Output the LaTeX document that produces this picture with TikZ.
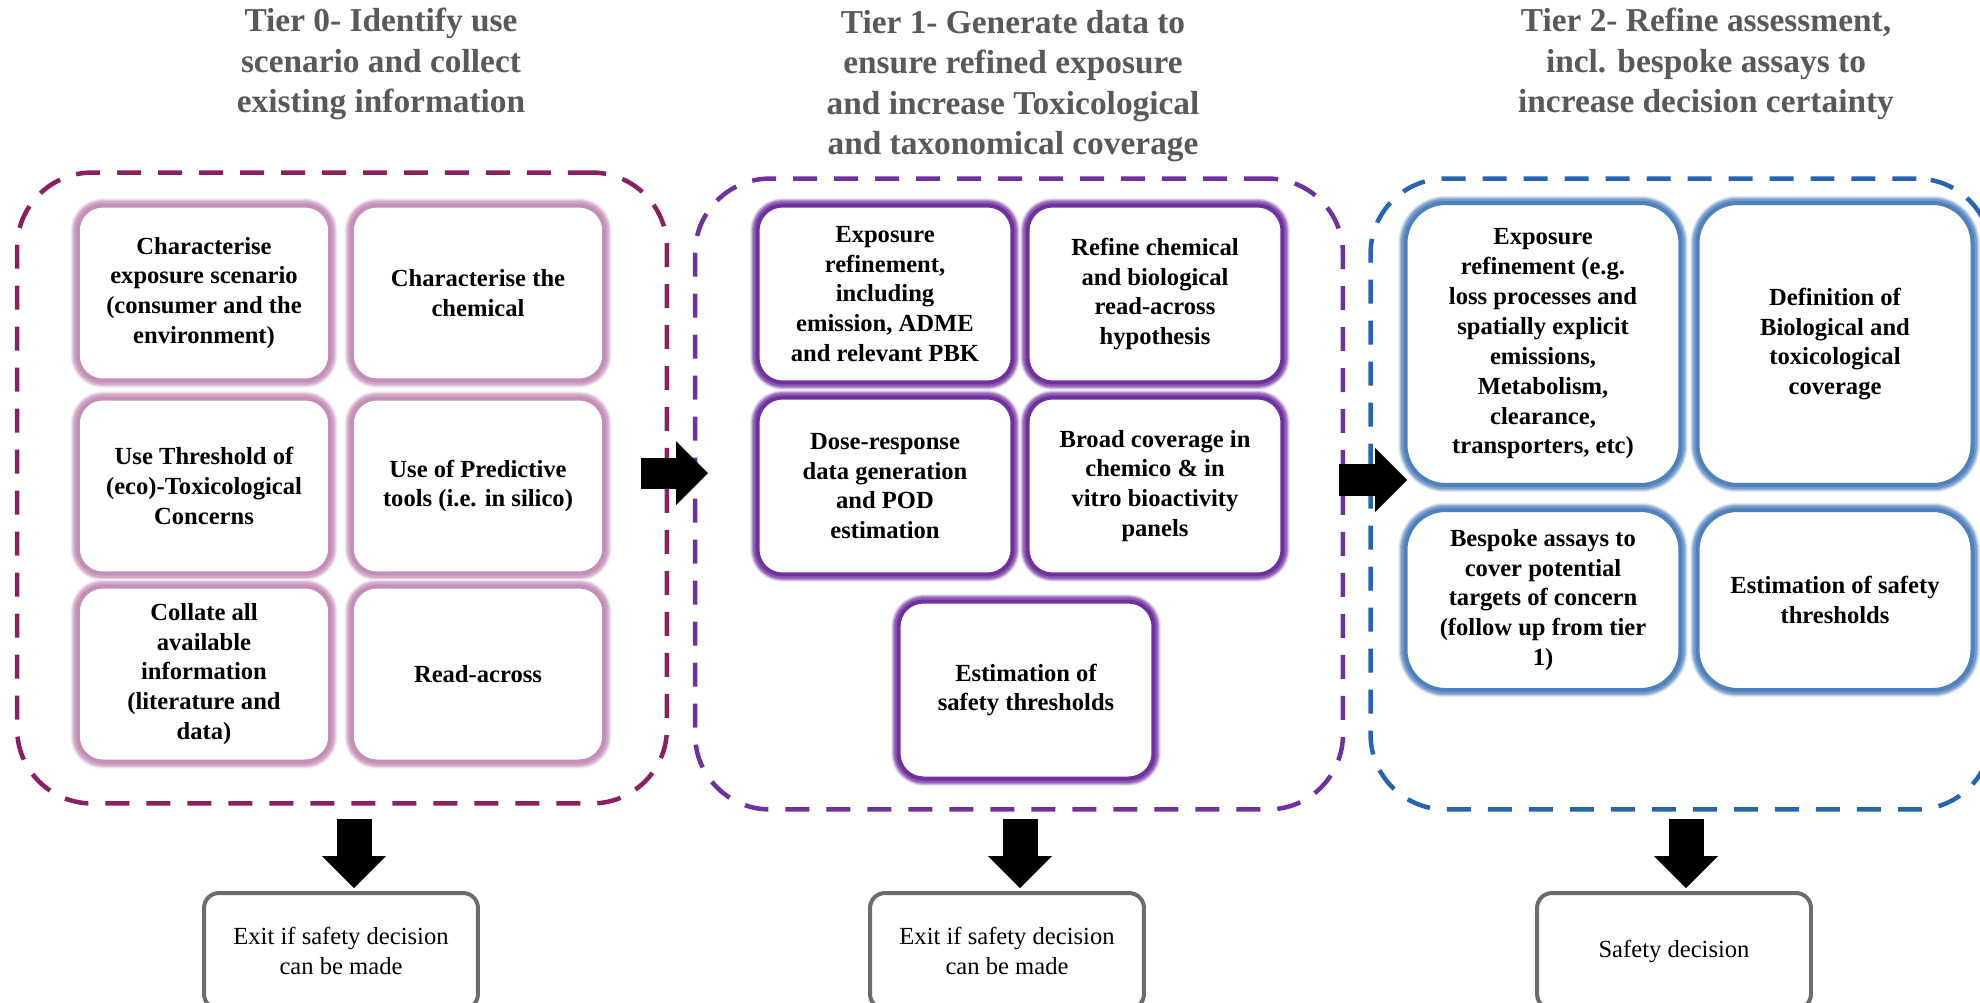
\documentclass[tikz,border=0pt]{standalone}
\usepackage{fontspec}
\setmainfont{Liberation Serif}[BoldFont={Liberation Serif Bold}]
\usetikzlibrary{arrows.meta}
\definecolor{plumdash}{RGB}{138,32,96}
\definecolor{violetdash}{RGB}{112,48,160}
\definecolor{bluedash}{RGB}{38,100,178}
\definecolor{pinkglow}{RGB}{196,142,184}
\definecolor{violetglow}{RGB}{112,48,160}
\definecolor{blueglow}{RGB}{79,129,189}
\definecolor{titlegrey}{RGB}{89,89,89}
\definecolor{exitgrey}{RGB}{108,108,108}

\begin{document}
\begin{tikzpicture}[x=0.02cm,y=-0.02cm,
  every node/.style={inner sep=0pt},
  tier/.style={draw=#1, line width=0.09cm, dash pattern=on 0.48cm off 0.34cm,
    rounded corners=1.5cm, minimum height=12.62cm},
  title/.style={align=center, text=titlegrey, font=\bfseries\fontsize{19}{23}\selectfont},
  task/.style={fill=white, align=center, font=\bfseries\fontsize{14}{17}\selectfont,
    draw=#1, line width=0.08cm,
    preaction={draw=#1!12, line width=0.3cm},
    preaction={draw=#1!30, line width=0.26cm},
    preaction={draw=#1!55, line width=0.22cm},
    preaction={draw=#1!80, line width=0.17cm}},
  boxzero/.style={task=pinkglow, rounded corners=0.5cm, minimum width=5.05cm, minimum height=3.5cm},
  boxone/.style={task=violetglow, rounded corners=0.5cm, minimum width=5.1cm, minimum height=3.54cm},
  boxtwo/.style={task=blueglow, rounded corners=0.8cm, minimum width=5.5cm},
  exitbox/.style={draw=exitgrey, line width=0.08cm, rounded corners=0.3cm, fill=white,
    minimum width=5.48cm, minimum height=2.32cm, align=center, font=\fontsize{14}{17}\selectfont},
  block/.style={line width=#1, -{Triangle[length=0.64cm, width=1.28cm, line width=0pt]}}
]
\useasboundingbox (0,0) rectangle (1980,1002);

\node[title] (title0) at (381,64) {Tier 0- Identify use\\scenario and collect\\existing information};
\node[title] (title1) at (1013,86) {Tier 1- Generate data to\\ensure refined exposure\\and  increase Toxicological\\and taxonomical coverage};
\node[title] (title2) at (1706,64) {Tier 2- Refine assessment,\\incl. bespoke assays to\\increase decision certainty};

\node[tier=plumdash, minimum width=13cm] (tier0) at (342,488) {};
\node[tier=violetdash, minimum width=12.96cm] (tier1) at (1019,494) {};
\node[tier=bluedash, minimum width=12.42cm] (tier2) at (1681,494) {};

\node[boxzero] (scen) at (204,293) {Characterise\\exposure scenario\\(consumer and the\\environment)};
\node[boxzero] (chem) at (478,293) {Characterise the\\chemical};
\node[boxzero] (ttc) at (204,486) {Use Threshold of\\(eco)-Toxicological\\Concerns};
\node[boxzero] (pred) at (478,486) {Use of Predictive\\tools (i.e. in silico)};
\node[boxzero] (coll) at (204,674) {Collate all\\available\\information\\(literature and\\data)};
\node[boxzero] (read) at (478,674) {Read-across};

\node[boxone] (expo1) at (885,294) {Exposure\\refinement,\\including\\emission, ADME\\and relevant PBK};
\node[boxone] (hypo) at (1155,294) {Refine chemical\\and biological\\read-across\\hypothesis};
\node[boxone] (dose) at (885,486) {Dose-response\\data generation\\and POD\\estimation};
\node[boxone] (broad) at (1155,486) {Broad coverage in\\chemico \&  in\\vitro bioactivity\\panels};
\node[boxone] (safe1) at (1026,690) {Estimation of\\safety thresholds};

\node[boxtwo, minimum height=5.64cm] (expo2) at (1543,344) {Exposure\\refinement (e.g.\\loss processes and\\spatially explicit\\emissions,\\Metabolism,\\clearance,\\transporters, etc)};
\node[boxtwo, minimum height=5.64cm] (cover) at (1835,344) {Definition of\\Biological and\\toxicological\\coverage};
\node[boxtwo, minimum height=3.6cm] (assay) at (1543,600) {Bespoke assays to\\cover potential\\targets of concern\\(follow up from tier\\1)};
\node[boxtwo, minimum height=3.6cm] (safe2) at (1835,600) {Estimation of safety\\thresholds};

\node[exitbox] (exit0) at (341,951) {Exit if safety decision\\can be made};
\node[exitbox] (exit1) at (1007,951) {Exit if safety decision\\can be made};
\node[exitbox] (exit2) at (1674,951) {Safety decision};

\coordinate (r0) at (641,473);
\coordinate (l1) at (708,473);
\coordinate (r1) at (1339,480);
\coordinate (l2) at (1407,480);
\coordinate (d0) at (354,819);
\coordinate (d1) at (1020,819);
\coordinate (d2) at (1686,819);

\draw[block=0.62cm] (r0) -- (l1);
\draw[block=0.64cm] (r1) -- (l2);
\draw[block=0.7cm, shorten >=0.06cm] (d0) -- (d0 |- exit0.north);
\draw[block=0.7cm, shorten >=0.06cm] (d1) -- (d1 |- exit1.north);
\draw[block=0.7cm, shorten >=0.06cm] (d2) -- (d2 |- exit2.north);
\end{tikzpicture}
\end{document}
